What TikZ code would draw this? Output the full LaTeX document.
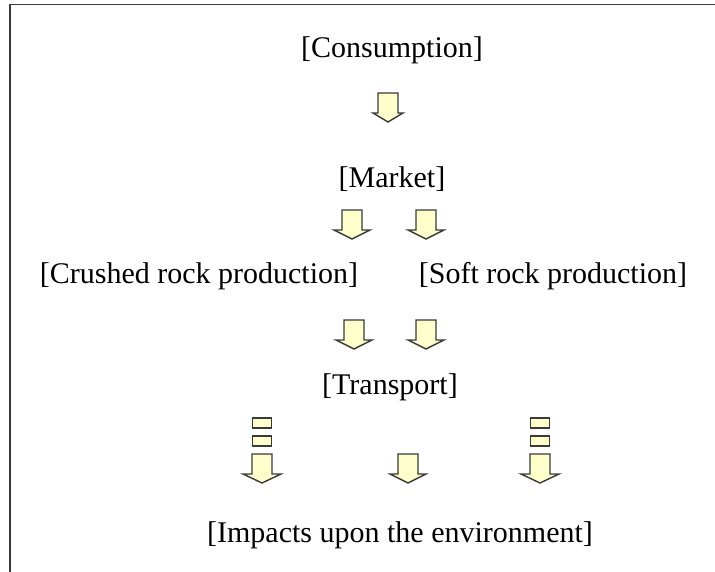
\documentclass[tikz,border=0pt]{standalone}
\usepackage{fontspec}
\setmainfont{Liberation Serif}
\definecolor{paleyellow}{HTML}{FFFFCC}
\definecolor{edgegray}{HTML}{3A3A3A}
\tikzset{
label text/.style={font=\fontsize{30}{36}\selectfont, inner sep=0pt},
pics/downarrow/.style={code={
  \draw[edgegray, fill=paleyellow, line width=1.4pt, line join=miter]
    (-10,0) -- (10,0) -- (10,20) -- (#1,20) -- (0,29) -- (-#1,20) -- (-10,20) -- cycle;
  }},
pics/downarrow/.default=18,
dashbar/.pic={
  \draw[edgegray, fill=paleyellow, line width=1.4pt] (-9.5,0) rectangle (9.5,10);
  }
}
\begin{document}
\begin{tikzpicture}[x=1pt, y=-1pt]
\useasboundingbox (0,0) rectangle (715,572);
% frame
\draw[edgegray, line width=1.6pt] (10,572) -- (10,4.5) -- (715,4.5);
% labels
\node[label text] (consumption) at (392,50) {[Consumption]};
\node[label text] (market) at (392,179) {[Market]};
\node[label text] (crushed) at (199,276) {[Crushed rock production]};
\node[label text] (soft) at (553,276) {[Soft rock production]};
\node[label text] (transport) at (390,387) {[Transport]};
\node[label text] (impacts) at (400,535) {[Impacts upon the environment]};
% arrows
\pic at (388,93) {downarrow=15};
\pic at (352,210) {downarrow};
\pic at (426,210) {downarrow};
\pic at (354,320) {downarrow};
\pic at (426,320) {downarrow};
\pic at (408,454) {downarrow};
% dashed arrows
\foreach \x in {262,540} {
  \pic at (\x,418) {dashbar};
  \pic at (\x,436) {dashbar};
  \pic at (\x,454) {downarrow=19};
}
\end{tikzpicture}
\end{document}
